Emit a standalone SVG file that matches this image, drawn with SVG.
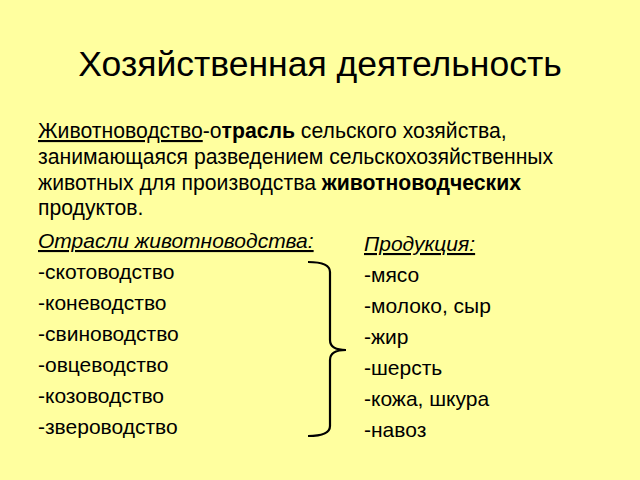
<svg xmlns="http://www.w3.org/2000/svg" width="640" height="480" viewBox="0 0 640 480">
<style>
text{font-family:"Liberation Sans",Arial,sans-serif;fill:#000}
.p{font-size:21.2px}
.l{font-size:21px}
</style>
<rect width="640" height="480" fill="#FFFF9F"/>
<g id="title"><text x="320" y="76" font-size="35.5" text-anchor="middle">Хозяйственная деятельность</text></g>
<g id="definition">
<text class="p" x="38" y="138"><tspan text-decoration="underline">Животноводство</tspan>-о<tspan font-weight="bold">трасль</tspan> сельского хозяйства,</text>
<text class="p" x="38" y="164">занимающаяся разведением сельскохозяйственных</text>
<text class="p" x="38" y="190">животных для производства <tspan font-weight="bold">животноводческих</tspan></text>
<text class="p" x="38" y="215">продуктов.</text>
</g>
<g id="branches">
<text class="l" x="38" y="248" font-style="italic" text-decoration="underline">Отрасли животноводства:</text>
<text class="l" x="38" y="279">-скотоводство</text>
<text class="l" x="38" y="310">-коневодство</text>
<text class="l" x="38" y="341">-свиноводство</text>
<text class="l" x="38" y="372">-овцеводство</text>
<text class="l" x="38" y="403">-козоводство</text>
<text class="l" x="38" y="434">-звероводство</text>
</g>
<g id="products">
<text class="l" x="364" y="251" font-style="italic" text-decoration="underline">Продукция:</text>
<text class="l" x="364" y="282">-мясо</text>
<text class="l" x="364" y="313">-молоко, сыр</text>
<text class="l" x="364" y="344">-жир</text>
<text class="l" x="364" y="375">-шерсть</text>
<text class="l" x="364" y="406">-кожа, шкура</text>
<text class="l" x="364" y="437">-навоз</text>
</g>
<g id="connectors">
<path d="M308 262 Q330 262 330 272 L330 340 Q330 350 346 350 Q330 350 330 360 L330 426 Q330 436 308 436" fill="none" stroke="#000" stroke-width="2.2"/>
</g>
</svg>
